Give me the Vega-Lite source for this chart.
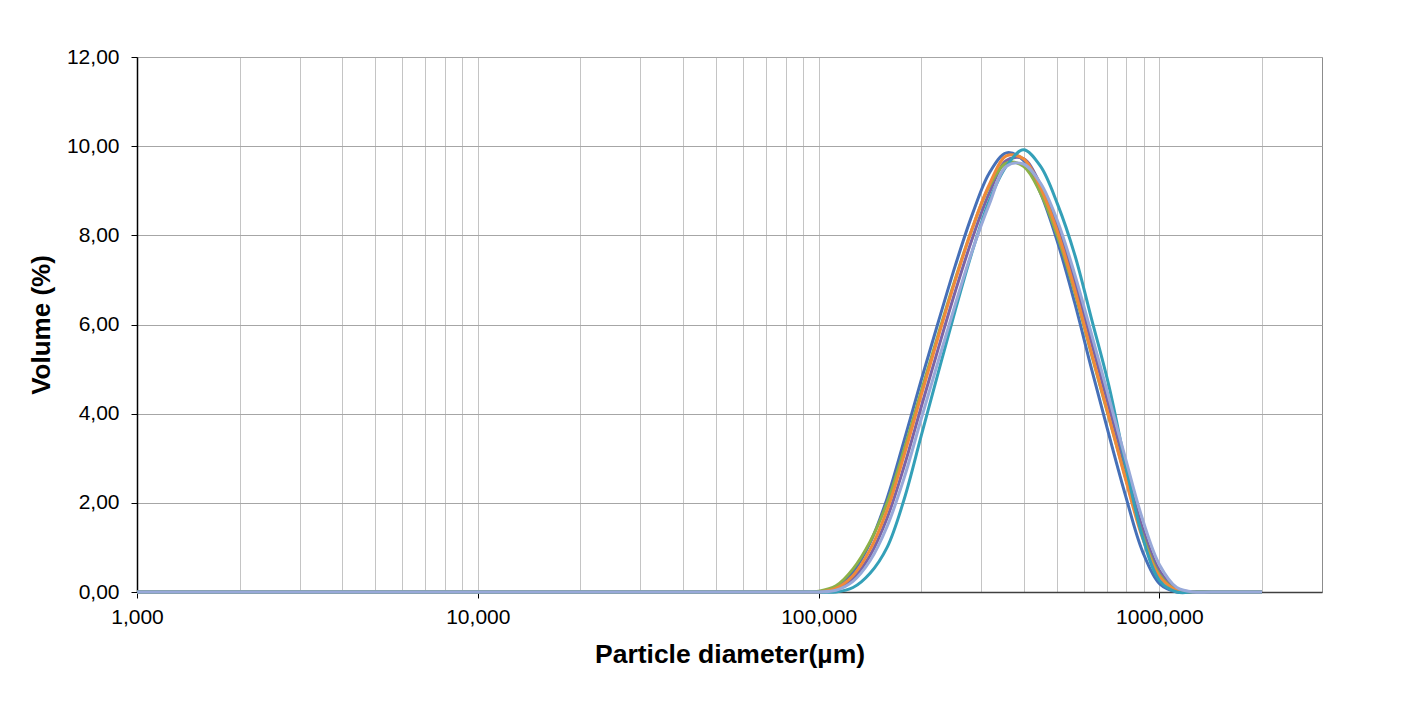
{
  "$schema": "https://vega.github.io/schema/vega-lite/v6.json",
  "width": 1185,
  "height": 535,
  "autosize": {"type": "none"},
  "padding": {"left": 137, "top": 57, "right": 84, "bottom": 123},
  "background": "white",
  "config": {
    "locale": {"number": {"decimal": ",", "thousands": ".", "grouping": [3], "currency": ["", " €"]}},
    "view": {"stroke": "#8c8c8c", "strokeWidth": 1},
    "font": "Liberation Sans"
  },
  "data": {
    "values": [
      {"size": 1.002, "S1": 0, "S2": 0, "S3": 0, "S4": 0, "S5": 0, "S6": 0},
      {"size": 10.024, "S1": 0, "S2": 0, "S3": 0, "S4": 0, "S5": 0, "S6": 0},
      {"size": 79.621, "S1": 0, "S2": 0, "S3": 0, "S4": 0, "S5": 0, "S6": 0},
      {"size": 89.337, "S1": 0, "S2": 0, "S3": 0, "S4": 0, "S5": 0, "S6": 0},
      {"size": 100.237, "S1": 0, "S2": 0, "S3": 0.02, "S4": 0, "S5": 0, "S6": 0},
      {"size": 112.468, "S1": 0.1, "S2": 0.06, "S3": 0.14, "S4": 0.08, "S5": 0, "S6": 0.04},
      {"size": 126.191, "S1": 0.45, "S2": 0.3, "S3": 0.52, "S4": 0.37, "S5": 0.1, "S6": 0.24},
      {"size": 141.589, "S1": 1.1, "S2": 0.82, "S3": 1.13, "S4": 0.95, "S5": 0.42, "S6": 0.7},
      {"size": 158.866, "S1": 2.1, "S2": 1.66, "S3": 2.0, "S4": 1.84, "S5": 1.0, "S6": 1.47},
      {"size": 178.25, "S1": 3.4, "S2": 2.82, "S3": 3.2, "S4": 3.07, "S5": 2.08, "S6": 2.56},
      {"size": 200.0, "S1": 4.75, "S2": 4.15, "S3": 4.5, "S4": 4.41, "S5": 3.5, "S6": 3.88},
      {"size": 224.404, "S1": 6.05, "S2": 5.46, "S3": 5.78, "S4": 5.72, "S5": 4.92, "S6": 5.18},
      {"size": 251.785, "S1": 7.32, "S2": 6.74, "S3": 7.02, "S4": 6.99, "S5": 6.32, "S6": 6.45},
      {"size": 282.508, "S1": 8.47, "S2": 7.93, "S3": 8.16, "S4": 8.16, "S5": 7.64, "S6": 7.66},
      {"size": 316.979, "S1": 9.4, "S2": 8.95, "S3": 9.1, "S4": 9.14, "S5": 8.78, "S6": 8.7},
      {"size": 355.656, "S1": 9.85, "S2": 9.68, "S3": 9.62, "S4": 9.78, "S5": 9.55, "S6": 9.55},
      {"size": 399.052, "S1": 9.68, "S2": 9.72, "S3": 9.55, "S4": 9.72, "S5": 9.92, "S6": 9.6},
      {"size": 447.744, "S1": 8.95, "S2": 9.14, "S3": 8.95, "S4": 9.07, "S5": 9.55, "S6": 9.17},
      {"size": 502.377, "S1": 7.85, "S2": 8.22, "S3": 7.98, "S4": 8.08, "S5": 8.7, "S6": 8.32},
      {"size": 563.677, "S1": 6.5, "S2": 6.98, "S3": 6.74, "S4": 6.8, "S5": 7.58, "S6": 7.14},
      {"size": 632.456, "S1": 5.0, "S2": 5.58, "S3": 5.32, "S4": 5.35, "S5": 6.12, "S6": 5.78},
      {"size": 709.627, "S1": 3.55, "S2": 4.18, "S3": 3.93, "S4": 3.95, "S5": 4.65, "S6": 4.38},
      {"size": 796.214, "S1": 2.15, "S2": 2.76, "S3": 2.55, "S4": 2.52, "S5": 2.85, "S6": 2.98},
      {"size": 893.367, "S1": 0.9, "S2": 1.42, "S3": 1.26, "S4": 1.2, "S5": 1.22, "S6": 1.62},
      {"size": 1002.374, "S1": 0.18, "S2": 0.47, "S3": 0.38, "S4": 0.34, "S5": 0.25, "S6": 0.6},
      {"size": 1124.683, "S1": 0, "S2": 0.07, "S3": 0.04, "S4": 0.04, "S5": 0, "S6": 0.1},
      {"size": 1261.915, "S1": 0, "S2": 0, "S3": 0, "S4": 0, "S5": 0, "S6": 0},
      {"size": 1415.892, "S1": 0, "S2": 0, "S3": 0, "S4": 0, "S5": 0, "S6": 0},
      {"size": 2000.0, "S1": 0, "S2": 0, "S3": 0, "S4": 0, "S5": 0, "S6": 0}
    ]
  },
  "transform": [{"fold": ["S1", "S2", "S3", "S4", "S5", "S6"], "as": ["series", "volume"]}],
  "mark": {"type": "line", "strokeWidth": 3, "interpolate": "catmull-rom", "clip": false},
  "encoding": {
    "x": {
      "field": "size",
      "type": "quantitative",
      "scale": {"type": "log", "domain": [1, 3000], "nice": false},
      "axis": {
        "title": "Particle diameter(µm)",
        "values": [1, 2, 3, 4, 5, 6, 7, 8, 9, 10, 20, 30, 40, 50, 60, 70, 80, 90, 100, 200, 300, 400, 500, 600, 700, 800, 900, 1000, 2000],
        "format": ".3f",
        "labelExpr": "indexof([1,10,100,1000], datum.value) >= 0 ? datum.label : ''",
        "labelOverlap": false,
        "labelFlush": false,
        "grid": true,
        "gridColor": "#c4c4c4",
        "gridWidth": 1,
        "gridOpacity": 1,
        "domainColor": "#404040",
        "domainWidth": 1.5,
        "tickColor": "#000000",
        "tickSize": 6,
        "tickWidth": 1,
        "tickOpacity": {"condition": {"test": "indexof([1,10,100,1000], datum.value) < 0", "value": 0}, "value": 1},
        "labelFontSize": 21,
        "labelColor": "#000000",
        "labelPadding": 8,
        "titleFontSize": 26.5,
        "titleFontWeight": "bold",
        "titleColor": "#000000",
        "titlePadding": 14
      }
    },
    "y": {
      "field": "volume",
      "type": "quantitative",
      "scale": {"domain": [0, 12], "nice": false},
      "axis": {
        "title": "Volume (%)",
        "values": [0, 2, 4, 6, 8, 10, 12],
        "format": ".2f",
        "grid": true,
        "gridColor": "#a6a6a6",
        "gridWidth": 1,
        "gridOpacity": 1,
        "domainColor": "#000000",
        "domainWidth": 1.5,
        "tickColor": "#000000",
        "tickSize": 6,
        "labelFontSize": 21,
        "labelColor": "#000000",
        "labelPadding": 12,
        "titleFontSize": 26,
        "titleFontWeight": "bold",
        "titleColor": "#000000",
        "titlePadding": 12
      }
    },
    "color": {
      "field": "series",
      "type": "nominal",
      "scale": {"domain": ["S1", "S2", "S3", "S4", "S5", "S6"], "range": ["#4670B8", "#7B64A6", "#8DB148", "#F0893A", "#34A0B8", "#98A9D9"]},
      "legend": null
    }
  }
}
